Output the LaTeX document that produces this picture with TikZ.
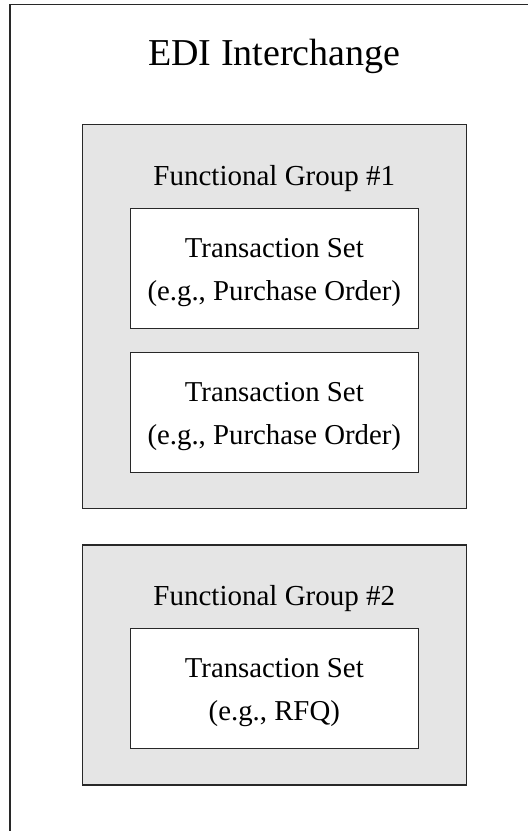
\documentclass[tikz,border=0pt]{standalone}
\usepackage{fontspec}
\setmainfont{Liberation Serif}
\usepackage{tikz}
\usetikzlibrary{positioning}
\definecolor{groupgray}{RGB}{229, 229, 229}
\definecolor{edgegray}{RGB}{40, 40, 40}
\tikzstyle{groupbox} = [rectangle, draw=edgegray, line width=1.1pt, fill=groupgray, minimum width=384pt, outer sep=0pt, inner sep=0pt]
\tikzstyle{setbox} = [rectangle, draw=edgegray, line width=1pt, fill=white, minimum width=288pt, minimum height=120.4pt, outer sep=0pt, inner sep=0pt]
\tikzstyle{titletext} = [font=\fontsize{38}{44}\selectfont, inner sep=0pt, anchor=base]
\tikzstyle{grouptext} = [font=\fontsize{29}{35}\selectfont, inner sep=0pt, anchor=base]
\tikzstyle{settext} = [font=\fontsize{28.8}{35}\selectfont, inner sep=0pt, anchor=base]

\begin{document}
\begin{tikzpicture}[x=1pt, y=-1pt]
\useasboundingbox (0,0) rectangle (528,831);
\clip (0,0) rectangle (528,831);

% interchange ============================
\draw[edgegray, line width=1.6pt] (10,4.5) rectangle (538.6,850);
\node[titletext] (edi) at (274.3,65) {EDI Interchange};

% functional group 1
\node[groupbox, minimum height=384.4pt] (grp1) at (274.3,316.5) {};
\node[grouptext] (grp1title) at ([yshift=-60.7pt]grp1.north) {Functional Group \#1};
\node[setbox, anchor=north] (set1) at ([yshift=-84pt]grp1.north) {};
\node[setbox, below=23.6pt of set1] (set2) {};

% functional group 2
\node[groupbox, minimum height=240pt, below=36.3pt of grp1] (grp2) {};
\node[grouptext] (grp2title) at ([yshift=-60.7pt]grp2.north) {Functional Group \#2};
\node[setbox, anchor=north] (set3) at ([yshift=-83.3pt]grp2.north) {};

% transaction set texts
\node[settext] (set1name) at ([yshift=-48.7pt]set1.north) {Transaction Set};
\node[settext] (set1note) at ([yshift=-91.7pt]set1.north) {(e.g., Purchase Order)};
\node[settext] (set2name) at ([yshift=-48.7pt]set2.north) {Transaction Set};
\node[settext] (set2note) at ([yshift=-91.7pt]set2.north) {(e.g., Purchase Order)};
\node[settext] (set3name) at ([yshift=-48.7pt]set3.north) {Transaction Set};
\node[settext] (set3note) at ([yshift=-91.7pt]set3.north) {(e.g., RFQ)};

\end{tikzpicture}
\end{document}
